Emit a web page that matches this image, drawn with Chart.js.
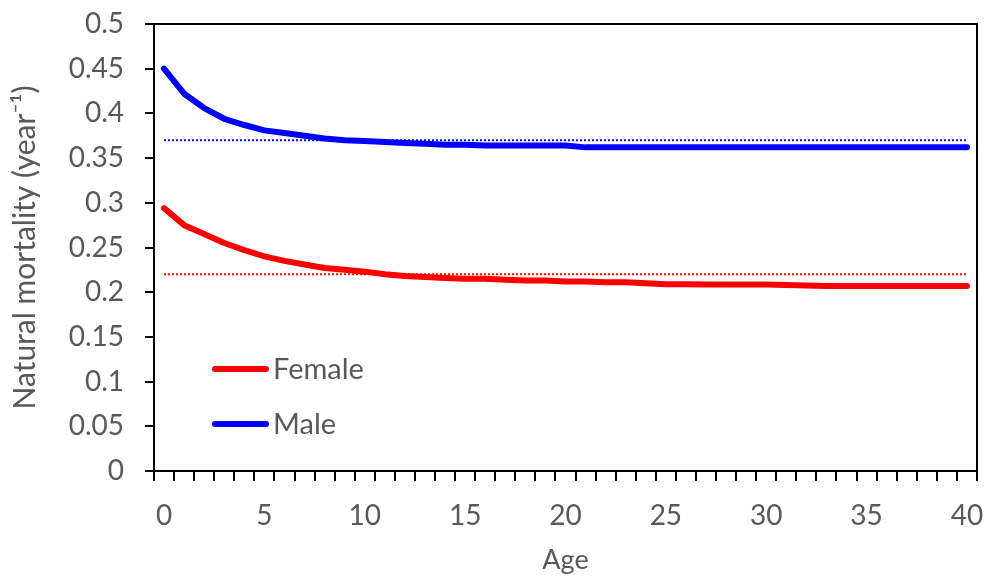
<!DOCTYPE html>
<html>
<head>
<meta charset="utf-8">
<script src="https://cdn.jsdelivr.net/npm/chart.js@4"></script>
<style>
  html, body { margin: 0; padding: 0; background: #fff; }
</style>
</head>
<body>
<canvas id="mortalityChart" width="989" height="579"></canvas>
<script>
// values
const ages = [0, 1, 2, 3, 4, 5, 6, 7, 8, 9, 10, 11, 12, 13, 14, 15, 16, 17, 18, 19, 20,
    21, 22, 23, 24, 25, 26, 27, 28, 29, 30, 31, 32, 33, 34, 35, 36, 37, 38, 39, 40];
const female = [0.294, 0.275, 0.265, 0.255, 0.247, 0.240, 0.235, 0.231, 0.227, 0.225, 0.223,
    0.220, 0.218, 0.217, 0.216, 0.215, 0.215, 0.214, 0.213, 0.213, 0.212,
    0.212, 0.211, 0.211, 0.210, 0.209, 0.209, 0.2085, 0.2085, 0.2085, 0.2085,
    0.208, 0.2075, 0.207, 0.207, 0.207, 0.207, 0.207, 0.207, 0.207, 0.207];
const male = [0.450, 0.422, 0.406, 0.394, 0.387, 0.381, 0.378, 0.375, 0.372, 0.370, 0.369,
    0.368, 0.367, 0.366, 0.365, 0.365, 0.364, 0.364, 0.364, 0.364, 0.364,
    0.362, 0.362, 0.362, 0.362, 0.362, 0.362, 0.362, 0.362, 0.362, 0.362,
    0.362, 0.362, 0.362, 0.362, 0.362, 0.362, 0.362, 0.362, 0.362, 0.362];
const femaleConstant = 0.22;
const maleConstant = 0.37;
const yTicks = [0, 0.05, 0.1, 0.15, 0.2, 0.25, 0.3, 0.35, 0.4, 0.45, 0.5];

const textColor = '#595959';
const fontFamily = 'Lato, "Open Sans", sans-serif';

// box round the plot + legend inside the plot area
const frameAndLegend = {
    id: 'frameAndLegend',
    afterDraw(chart) {
        const { ctx, chartArea: a } = chart;
        ctx.save();
        ctx.strokeStyle = '#000';
        ctx.lineWidth = 2;
        ctx.beginPath();
        ctx.moveTo(a.left, a.top);
        ctx.lineTo(a.right, a.top);
        ctx.lineTo(a.right, a.bottom);
        ctx.stroke();

        const items = [
            { text: 'Female', color: '#ff0000', y: a.top + 345 },
            { text: 'Male', color: '#0000ff', y: a.top + 400 }
        ];
        ctx.font = '29px ' + fontFamily;
        ctx.textBaseline = 'middle';
        ctx.fillStyle = textColor;
        items.forEach(function (it) {
            ctx.strokeStyle = it.color;
            ctx.lineWidth = 6;
            ctx.lineCap = 'round';
            ctx.beginPath();
            ctx.moveTo(a.left + 61, it.y);
            ctx.lineTo(a.left + 112, it.y);
            ctx.stroke();
            ctx.fillText(it.text, a.left + 119, it.y + 1);
        });
        ctx.restore();
    }
};

const ctx = document.getElementById('mortalityChart').getContext('2d');
const mortalityChart = new Chart(ctx, {
    type: 'line',
    data: {
        labels: ages.map(String),
        datasets: [{
            label: 'Female',
            data: female,
            borderColor: '#ff0000',
            borderWidth: 6,
            borderCapStyle: 'round',
            borderJoinStyle: 'round',
            pointRadius: 0,
            tension: 0
        }, {
            label: 'Male',
            data: male,
            borderColor: '#0000ff',
            borderWidth: 6,
            borderCapStyle: 'round',
            borderJoinStyle: 'round',
            pointRadius: 0,
            tension: 0
        }, {
            label: 'Female constant',
            data: ages.map(() => femaleConstant),
            borderColor: '#ff0000',
            borderWidth: 2,
            borderDash: [2, 2],
            pointRadius: 0
        }, {
            label: 'Male constant',
            data: ages.map(() => maleConstant),
            borderColor: '#0000ff',
            borderWidth: 2,
            borderDash: [2, 2],
            pointRadius: 0
        }]
    },
    options: {
        responsive: false,
        animation: false,
        devicePixelRatio: 1,
        layout: { padding: { top: 24, right: 12, left: 0, bottom: 0 } },
        plugins: {
            legend: { display: false },
            tooltip: { enabled: false }
        },
        scales: {
            x: {
                type: 'category',
                offset: true,
                grid: {
                    offset: true,
                    drawOnChartArea: false,
                    color: '#000',
                    lineWidth: 2,
                    tickLength: 10
                },
                border: { color: '#000', width: 2 },
                ticks: {
                    autoSkip: false,
                    maxRotation: 0,
                    padding: 18,
                    color: textColor,
                    font: { family: fontFamily, size: 28 },
                    callback: function (v, i) {
                        return ages[i] % 5 === 0 ? String(ages[i]) : '';
                    }
                },
                title: {
                    display: true,
                    text: 'Age',
                    color: textColor,
                    font: { family: fontFamily, size: 27 },
                    padding: { top: 0, bottom: 3 }
                },
                afterFit: function (scale) {
                    scale.height = 108;
                    scale.paddingLeft = 0;
                    scale.paddingRight = 0;
                }
            },
            y: {
                min: 0,
                max: 0.5,
                afterBuildTicks: function (scale) {
                    scale.ticks = yTicks.map(v => ({ value: v }));
                },
                grid: {
                    drawOnChartArea: false,
                    color: '#000',
                    lineWidth: 2,
                    tickLength: 9
                },
                border: { color: '#000', width: 2 },
                ticks: {
                    padding: 21,
                    color: textColor,
                    font: { family: fontFamily, size: 28 },
                    callback: function (v) { return String(+v.toFixed(2)); }
                },
                title: {
                    display: true,
                    text: 'Natural mortality (year\u207B\u00B9)',
                    color: textColor,
                    font: { family: fontFamily, size: 30 },
                    padding: { top: 7, bottom: 0 }
                },
                afterFit: function (scale) {
                    scale.width = 154;
                    scale.paddingTop = 0;
                    scale.paddingBottom = 0;
                }
            }
        }
    },
    plugins: [frameAndLegend]
});
</script>
</body>
</html>
